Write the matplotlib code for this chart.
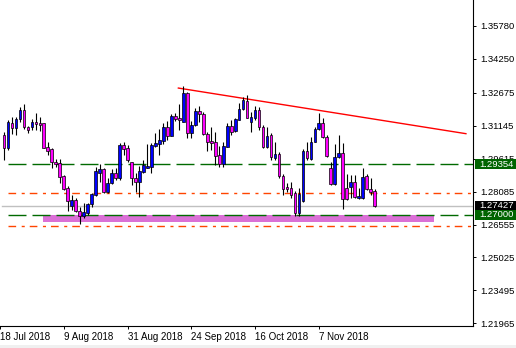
import matplotlib
matplotlib.use("Agg")
import matplotlib.pyplot as plt
import matplotlib.transforms as mtransforms
from matplotlib.patches import Rectangle

plt.rcParams['lines.scale_dashes'] = False
plt.rcParams['font.family'] = ['Liberation Sans', 'DejaVu Sans']

# ---- data (daily candles) ----
opens = [1.3072, 1.3012, 1.3129, 1.3103, 1.3144, 1.3188, 1.3107, 1.3107, 1.3130, 1.3127,
         1.3126, 1.3014, 1.3005, 1.2946, 1.2940, 1.2881, 1.2824, 1.2741, 1.2769, 1.2720,
         1.2696, 1.2710, 1.2749, 1.2793, 1.2896, 1.2913, 1.2807, 1.2847, 1.2894, 1.2873,
         1.3025, 1.3010, 1.2945, 1.2870, 1.2852, 1.2900, 1.2919, 1.2921, 1.3022, 1.3030,
         1.3045, 1.3107, 1.3068, 1.3160, 1.3149, 1.3134, 1.3265, 1.3079, 1.3118, 1.3183,
         1.3168, 1.3075, 1.3044, 1.3040, 1.2978, 1.2937, 1.3017, 1.3115, 1.3090, 1.3143,
         1.3192, 1.3229, 1.3130, 1.3149, 1.3186, 1.3110, 1.3017, 1.3072, 1.2963, 1.2982,
         1.2882, 1.2831, 1.2824, 1.2801, 1.2708, 1.2765, 1.2997, 1.2960, 1.3040, 1.3099,
         1.3126, 1.3061, 1.2919, 1.2844, 1.2971, 1.2986, 1.2827, 1.2831, 1.2852, 1.2777,
         1.2777, 1.2881, 1.2819, 1.2812]
highs = [1.3084, 1.3141, 1.3154, 1.3157, 1.3203, 1.3216, 1.3113, 1.3146, 1.3172, 1.3154,
         1.3129, 1.3040, 1.3012, 1.2958, 1.2958, 1.2886, 1.2835, 1.2793, 1.2777, 1.2735,
         1.2754, 1.2757, 1.2803, 1.2924, 1.2935, 1.2917, 1.2870, 1.2912, 1.2917, 1.3036,
         1.3040, 1.3025, 1.2947, 1.2894, 1.2927, 1.2955, 1.3028, 1.3033, 1.3082, 1.3098,
         1.3126, 1.3138, 1.3169, 1.3172, 1.3216, 1.3299, 1.3273, 1.3137, 1.3196, 1.3208,
         1.3180, 1.3087, 1.3109, 1.3087, 1.3022, 1.3038, 1.3126, 1.3141, 1.3152, 1.3219,
         1.3249, 1.3257, 1.3180, 1.3208, 1.3203, 1.3118, 1.3110, 1.3079, 1.3040, 1.2994,
         1.2889, 1.2847, 1.2852, 1.2811, 1.2824, 1.3005, 1.3040, 1.3064, 1.3110, 1.3172,
         1.3149, 1.3072, 1.2945, 1.3028, 1.3072, 1.3033, 1.2889, 1.2886, 1.2886, 1.2824,
         1.2917, 1.2889, 1.2870, 1.2821]
lows = [1.2955, 1.3002, 1.3076, 1.3072, 1.3133, 1.3099, 1.3079, 1.3095, 1.3095, 1.3090,
        1.3010, 1.2978, 1.2919, 1.2921, 1.2850, 1.2816, 1.2720, 1.2723, 1.2715, 1.2658,
        1.2684, 1.2700, 1.2738, 1.2788, 1.2854, 1.2801, 1.2801, 1.2842, 1.2862, 1.2862,
        1.2978, 1.2947, 1.2839, 1.2808, 1.2785, 1.2896, 1.2917, 1.2896, 1.3017, 1.2978,
        1.3030, 1.3048, 1.3067, 1.3138, 1.3095, 1.3132, 1.3056, 1.3056, 1.3115, 1.3133,
        1.3072, 1.2997, 1.3002, 1.2932, 1.2921, 1.2921, 1.3014, 1.3072, 1.3087, 1.3140,
        1.3188, 1.3149, 1.3087, 1.3141, 1.3095, 1.3012, 1.3010, 1.2955, 1.2955, 1.2870,
        1.2793, 1.2808, 1.2777, 1.2695, 1.2695, 1.2762, 1.2955, 1.2955, 1.3038, 1.3095,
        1.3056, 1.2971, 1.2839, 1.2839, 1.2963, 1.2728, 1.2769, 1.2777, 1.2777, 1.2774,
        1.2774, 1.2816, 1.2793, 1.2738]
closes = [1.3012, 1.3130, 1.3103, 1.3144, 1.3188, 1.3107, 1.3095, 1.3130, 1.3121, 1.3119,
          1.3012, 1.2997, 1.2945, 1.2937, 1.2878, 1.2821, 1.2766, 1.2769, 1.2720, 1.2696,
          1.2712, 1.2751, 1.2797, 1.2904, 1.2913, 1.2807, 1.2847, 1.2894, 1.2873, 1.3025,
          1.3006, 1.2955, 1.2870, 1.2854, 1.2904, 1.2932, 1.2927, 1.3024, 1.3036, 1.3048,
          1.3107, 1.3068, 1.3160, 1.3146, 1.3141, 1.3267, 1.3079, 1.3118, 1.3183, 1.3168,
          1.3075, 1.3038, 1.3033, 1.2975, 1.2937, 1.3022, 1.3115, 1.3087, 1.3146, 1.3192,
          1.3234, 1.3152, 1.3155, 1.3186, 1.3110, 1.3017, 1.3067, 1.2968, 1.2983, 1.2881,
          1.2821, 1.2819, 1.2793, 1.2708, 1.2796, 1.2997, 1.2963, 1.3040, 1.3099, 1.3126,
          1.3061, 1.2975, 1.2844, 1.2971, 1.2986, 1.2774, 1.2774, 1.2852, 1.2785, 1.2788,
          1.2875, 1.2821, 1.2808, 1.27427]

date_ticks = [-1, 15, 31, 47, 63, 79]
date_labels = ["18 Jul 2018", "9 Aug 2018", "31 Aug 2018", "24 Sep 2018", "16 Oct 2018", "7 Nov 2018"]
price_ticks = [1.35780, 1.34250, 1.32675, 1.31145, 1.29615, 1.28085, 1.26555, 1.25025, 1.23495, 1.21965]

support_levels = [1.29354, 1.27000]
dashdot_levels = [1.2800, 1.2650]
bid_level = 1.27427
trend_x = [43.75, 115.9]
trend_y = [1.32896, 1.30776]
zone_x = [9.9, 107.9]
zone_y = [1.26663, 1.26988]

# ---- figure ----
W, H = 516, 348
fig = plt.figure(figsize=(W / 100, H / 100), dpi=100)
fig.patch.set_facecolor('white')
fig.patches.append(Rectangle((0, 0), 1, 3 / H, transform=fig.transFigure,
                             facecolor='#F0F0F0', edgecolor='none'))
ax = fig.add_axes([0, 22 / H, 473 / W, 326 / H])
xmin, xmax = -0.575, 117.675
ax.set_xlim(xmin, xmax)
ax.set_ylim(1.21839, 1.36988)

# zone
ax.add_patch(Rectangle((zone_x[0], zone_y[0]), zone_x[1] - zone_x[0], zone_y[1] - zone_y[0],
                       facecolor='#DA70D6', edgecolor='none', zorder=1))

# horizontal lines
ax.plot([xmin, xmax], [bid_level, bid_level], color='#C0C0C0', lw=1.0, zorder=1.5)
for lv in support_levels:
    ax.plot([0.925, xmax], [lv, lv], color='#006A00', lw=1.0,
            dashes=(12.96, 4.32), zorder=1.5)
for lv in dashdot_levels:
    ax.plot([0.925, xmax], [lv, lv], color='#FF4500', lw=1.0,
            dashes=(5.5, 4.0, 2.2, 3.6), zorder=1.5)

# trend line
ax.plot(trend_x, trend_y, color='#FF0000', lw=1.0, zorder=2)

# candles
bw = 0.68
for k, (o, h, l, c) in enumerate(zip(opens, highs, lows, closes)):
    ax.plot([k, k], [l, h], color='black', lw=0.8, zorder=3, solid_capstyle='butt')
    col = '#0000FF' if c >= o else '#FF00FF'
    bot = min(o, c)
    ht = max(abs(c - o), 0.0003)
    ax.add_patch(Rectangle((k - bw / 2, bot), bw, ht, facecolor=col,
                           edgecolor='black', lw=0.5, zorder=4))

# axes styling
for s in ['left', 'top']:
    ax.spines[s].set_visible(False)
for s in ['right', 'bottom']:
    ax.spines[s].set_linewidth(0.8)
    ax.spines[s].set_color('black')
ax.yaxis.tick_right()
ax.set_yticks(price_ticks)
ax.set_yticklabels([f"{p:.5f}" for p in price_ticks])
ax.set_xticks(date_ticks)
ax.set_xticklabels(date_labels, ha='left')
ax.tick_params(axis='y', direction='out', length=2.5, width=0.7, pad=2.5,
               labelsize=6.8, colors='black')
ax.tick_params(axis='x', direction='out', length=2.5, width=0.7, pad=1.8,
               labelsize=7, colors='black')

# price boxes on the scale
blend = mtransforms.blended_transform_factory(fig.transFigure, ax.transData)
box_h = 10 * 0.0004647
boxes = [(bid_level, '#000000'), (1.27000, '#006400'), (1.29354, '#006400')]
for lv, col in boxes:
    ax.add_patch(Rectangle((475 / W, lv - box_h / 2), (W - 475) / W, box_h,
                           transform=blend, facecolor=col, edgecolor='none',
                           clip_on=False, zorder=10))
    ax.text(479 / W, lv, f"{lv:.5f}", transform=blend, color='white',
            fontsize=6.8, va='center', ha='left', clip_on=False, zorder=11)

fig.savefig('out.png', dpi=100)
